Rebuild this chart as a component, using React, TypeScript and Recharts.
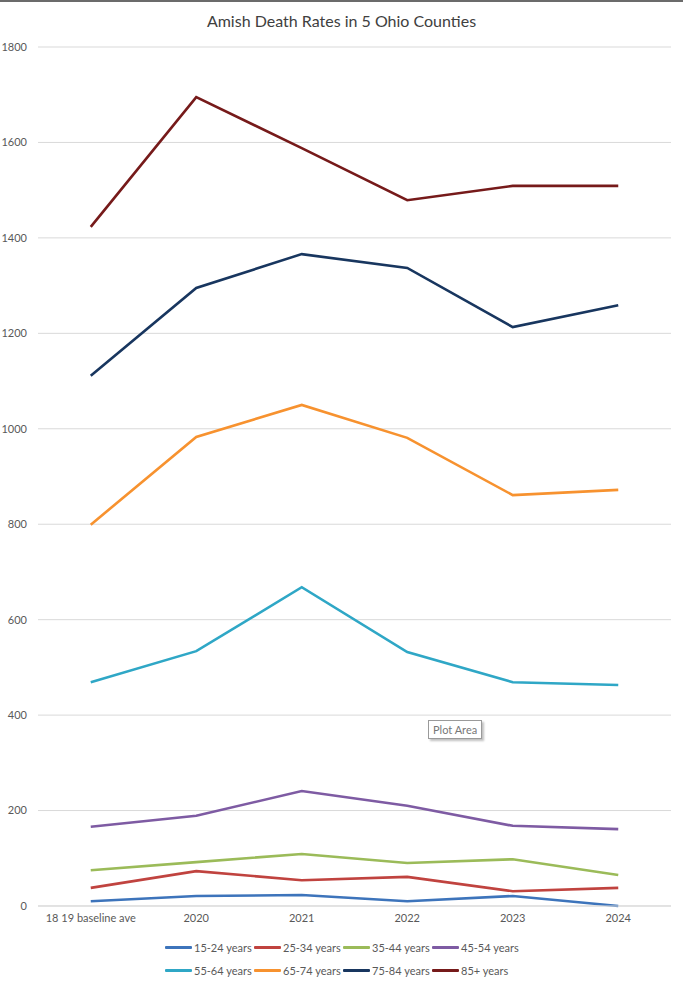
import { LineChart, Line, XAxis, YAxis, CartesianGrid, Legend } from "recharts";

const categories = ["18 19 baseline ave", "2020", "2021", "2022", "2023", "2024"];

const age15to24 = [10, 21, 23, 10, 21, 0];
const age25to34 = [38, 73, 54, 61, 31, 38];
const age35to44 = [75, 92, 109, 90, 98, 65];
const age45to54 = [166, 189, 241, 210, 168, 161];
const age55to64 = [469, 534, 668, 532, 469, 463];
const age65to74 = [799, 983, 1050, 981, 861, 872];
const age75to84 = [1111, 1295, 1366, 1337, 1213, 1259];
const age85plus = [1423, 1695, 1588, 1479, 1509, 1509];

const yTicks = [0, 200, 400, 600, 800, 1000, 1200, 1400, 1600, 1800];

const series = [
  { key: "a1524", name: "15-24 years", values: age15to24, color: "#3D74BB" },
  { key: "a2534", name: "25-34 years", values: age25to34, color: "#C0433F" },
  { key: "a3544", name: "35-44 years", values: age35to44, color: "#9BBB59" },
  { key: "a4554", name: "45-54 years", values: age45to54, color: "#7E5BA3" },
  { key: "a5564", name: "55-64 years", values: age55to64, color: "#2FA7C6" },
  { key: "a6574", name: "65-74 years", values: age65to74, color: "#F7922F" },
  { key: "a7584", name: "75-84 years", values: age75to84, color: "#18365F" },
  { key: "a85", name: "85+ years", values: age85plus, color: "#761A1A" },
];

const chartData = categories.map((cat, i) => {
  const row: Record<string, string | number> = { category: cat };
  series.forEach((s) => {
    row[s.key] = s.values[i];
  });
  return row;
});

const FONT = "Lato, 'Open Sans', sans-serif";
const TEXT = "#595959";

function LegendBox() {
  return (
    <div
      style={{
        display: "grid",
        gridTemplateColumns: "repeat(4, 89px)",
        rowGap: 7,
        paddingLeft: 165,
        paddingTop: 3,
        fontFamily: FONT,
        fontSize: 11,
        color: TEXT,
      }}
    >
      {series.map((s) => (
        <div key={s.key} style={{ display: "flex", alignItems: "center", height: 16 }}>
          <span
            style={{
              display: "inline-block",
              width: 27,
              height: 3,
              background: s.color,
              marginRight: 2,
              borderRadius: 1,
            }}
          />
          <span style={{ whiteSpace: "nowrap" }}>{s.name}</span>
        </div>
      ))}
    </div>
  );
}

export default function App() {
  return (
    <div
      style={{
        position: "absolute",
        left: 0,
        top: 0,
        width: 683,
        height: 987,
        background: "#ffffff",
        borderTop: "2px solid #6b6b6b",
        boxSizing: "border-box",
        overflow: "hidden",
      }}
    >
      <div
        style={{
          position: "absolute",
          top: 9,
          left: 0,
          width: 683,
          textAlign: "center",
          fontFamily: FONT,
          fontSize: 16,
          color: "#404040",
          fontWeight: 400,
        }}
      >
        Amish Death Rates in 5 Ohio Counties
      </div>
      <div style={{ position: "absolute", top: -2, left: 0 }}>
        <LineChart
          width={683}
          height={987}
          data={chartData}
          margin={{ top: 47, right: 12, bottom: 0, left: 0 }}
        >
          <CartesianGrid vertical={false} stroke="#d9d9d9" />
          <XAxis
            dataKey="category"
            height={30}
            padding={{ left: 52.75, right: 52.75 }}
            tickLine={false}
            axisLine={{ stroke: "#d9d9d9" }}
            tick={{ fill: TEXT, fontSize: 11, fontFamily: FONT }}
            interval={0}
          />
          <YAxis
            width={38}
            domain={[0, 1800]}
            ticks={yTicks}
            tickLine={false}
            axisLine={false}
            tickMargin={5}
            tick={{ fill: TEXT, fontSize: 11, fontFamily: FONT }}
          />
          <Legend
            verticalAlign="bottom"
            content={() => <LegendBox />}
            wrapperStyle={{ height: 51, width: 683, left: 0 }}
          />
          {series.map((s) => (
            <Line
              key={s.key}
              type="linear"
              dataKey={s.key}
              name={s.name}
              stroke={s.color}
              strokeWidth={2.6}
              dot={false}
              activeDot={false}
              isAnimationActive={false}
            />
          ))}
        </LineChart>
      </div>
      <div
        style={{
          position: "absolute",
          left: 428,
          top: 718,
          padding: "2px 4px",
          border: "1px solid #9a9a9a",
          background: "#ffffff",
          boxShadow: "2px 2px 2px rgba(0,0,0,0.25)",
          fontFamily: FONT,
          fontSize: 11,
          color: "#777777",
        }}
      >
        Plot Area
      </div>
    </div>
  );
}
